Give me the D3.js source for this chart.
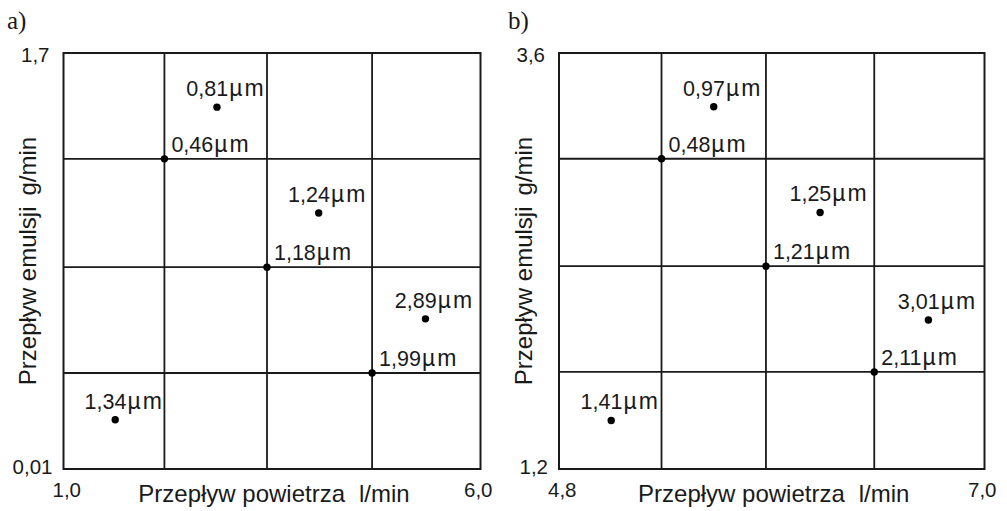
<!DOCTYPE html>
<html>
<head>
<meta charset="utf-8">
<script src="https://cdn.jsdelivr.net/npm/d3@7"></script>
<style>
  body { margin: 0; background: #fff; }
  svg { display: block; }
</style>
</head>
<body>
<script>
// Panel a)
const xDomainA = [1.0, 6.0];
const yDomainA = [0.01, 1.7];
const xTickLabelsA = ["1,0", "6,0"];
const yTickLabelsA = ["0,01", "1,7"];
const xGridA = [2.21, 3.44, 4.70];
const yGridA = [0.40, 0.83, 1.27];
const pointXA = [1.62, 2.21, 2.84, 3.44, 4.06, 4.70, 5.34];
const pointYA = [0.21, 1.27, 1.48, 0.83, 1.05, 0.40, 0.62];
const pointLabelA = ["1,34", "0,46", "0,81", "1,18", "1,24", "1,99", "2,89"];

// Panel b)
const xDomainB = [4.8, 7.0];
const yDomainB = [1.2, 3.6];
const xTickLabelsB = ["4,8", "7,0"];
const yTickLabelsB = ["1,2", "3,6"];
const xGridB = [5.33, 5.87, 6.43];
const yGridB = [1.76, 2.37, 2.99];
const pointXB = [5.07, 5.33, 5.60, 5.87, 6.15, 6.43, 6.71];
const pointYB = [1.48, 2.99, 3.29, 2.37, 2.68, 1.76, 2.06];
const pointLabelB = ["1,41", "0,48", "0,97", "1,21", "1,25", "2,11", "3,01"];

const xTitle = ["Przepływ powietrza", "l/min"];
const yTitle = ["Przepływ emulsji", "g/min"];

const W = 1007, H = 511;
const ink = "#1a1a1a";
const sans = "'Liberation Sans', Arial, sans-serif";

const svg = d3.select("body").append("svg")
    .attr("width", W)
    .attr("height", H);

function drawPanel(opt) {
    const x = d3.scaleLinear().domain(opt.xDomain).range([opt.left, opt.right]);
    const y = d3.scaleLinear().domain(opt.yDomain).range([opt.bottom, opt.top]);
    const g = svg.append("g");

    // panel letter
    g.append("text")
        .attr("x", opt.letterX)
        .attr("y", 29)
        .attr("font-family", "'Liberation Serif', 'Times New Roman', serif")
        .attr("font-size", 25)
        .attr("fill", ink)
        .text(opt.letter);

    // grid lines
    g.selectAll(".vx").data(opt.xGrid).join("line")
        .attr("class", "vx")
        .attr("x1", d => x(d)).attr("x2", d => x(d))
        .attr("y1", opt.top).attr("y2", opt.bottom)
        .attr("stroke", ink).attr("stroke-width", 1.8);
    g.selectAll(".hy").data(opt.yGrid).join("line")
        .attr("class", "hy")
        .attr("x1", opt.left).attr("x2", opt.right)
        .attr("y1", d => y(d)).attr("y2", d => y(d))
        .attr("stroke", ink).attr("stroke-width", 1.8);

    // frame
    g.append("rect")
        .attr("x", opt.left).attr("y", opt.top)
        .attr("width", opt.right - opt.left)
        .attr("height", opt.bottom - opt.top)
        .attr("fill", "none")
        .attr("stroke", ink).attr("stroke-width", 2);

    // end tick labels
    const tick = (txt, px, py, anchor) => g.append("text")
        .attr("x", px).attr("y", py)
        .attr("text-anchor", anchor)
        .attr("font-family", sans).attr("font-size", 20.5)
        .attr("fill", ink).text(txt);
    tick(opt.yTicks[1], x(opt.xDomain[0]) - 14, y(opt.yDomain[1]) + 8.5, "end");
    tick(opt.yTicks[0], x(opt.xDomain[0]) - 11, y(opt.yDomain[0]) + 5, "end");
    tick(opt.xTicks[0], x(opt.xDomain[0]) - 11, y(opt.yDomain[0]) + 28, "start");
    tick(opt.xTicks[1], x(opt.xDomain[1]) + 12, y(opt.yDomain[0]) + 28, "end");

    // axis titles
    const xt = g.append("text")
        .attr("x", (opt.left + opt.right) / 2 + 2)
        .attr("y", opt.bottom + 33)
        .attr("text-anchor", "middle")
        .attr("font-family", sans).attr("font-size", 24)
        .attr("fill", ink);
    xt.append("tspan").text(xTitle[0]);
    xt.append("tspan").attr("dx", 14).text(xTitle[1]);

    const yt = g.append("text")
        .attr("transform", `translate(${opt.left - 27.5},${(opt.top + opt.bottom) / 2}) rotate(-90)`)
        .attr("text-anchor", "middle")
        .attr("font-family", sans).attr("font-size", 24)
        .attr("fill", ink);
    yt.append("tspan").text(yTitle[0]);
    yt.append("tspan").attr("dx", 11).text(yTitle[1]);

    // points
    const pts = opt.px.map((d, i) => ({ x: d, y: opt.py[i], label: opt.labels[i] }));
    const onGrid = d => opt.xGrid.includes(d.x);

    g.selectAll(".dot").data(pts).join("circle")
        .attr("class", "dot")
        .attr("cx", d => x(d.x))
        .attr("cy", d => y(d.y))
        .attr("r", 3.7)
        .attr("fill", "#000");

    const lab = g.selectAll(".lab").data(pts).join("text")
        .attr("class", "lab")
        .attr("x", d => onGrid(d) ? x(d.x) + 7 : x(d.x) + 9)
        .attr("y", d => onGrid(d) ? y(d.y) - 7 : y(d.y) - 11)
        .attr("text-anchor", d => onGrid(d) ? "start" : "middle")
        .attr("font-family", sans).attr("font-size", 21.5)
        .attr("fill", ink);
    lab.append("tspan").text(d => d.label);
    lab.append("tspan")
        .attr("dx", 1)
        .attr("font-size", 23)
        .attr("letter-spacing", 2)
        .text("µm");
}

drawPanel({
    letter: "a)", letterX: 7, left: 63.5, right: 480.5, top: 53, bottom: 469,
    xDomain: xDomainA, yDomain: yDomainA,
    xTicks: xTickLabelsA, yTicks: yTickLabelsA,
    xGrid: xGridA, yGrid: yGridA,
    px: pointXA, py: pointYA, labels: pointLabelA
});

drawPanel({
    letter: "b)", letterX: 508, left: 559, right: 984.5, top: 53, bottom: 469,
    xDomain: xDomainB, yDomain: yDomainB,
    xTicks: xTickLabelsB, yTicks: yTickLabelsB,
    xGrid: xGridB, yGrid: yGridB,
    px: pointXB, py: pointYB, labels: pointLabelB
});
</script>
</body>
</html>
